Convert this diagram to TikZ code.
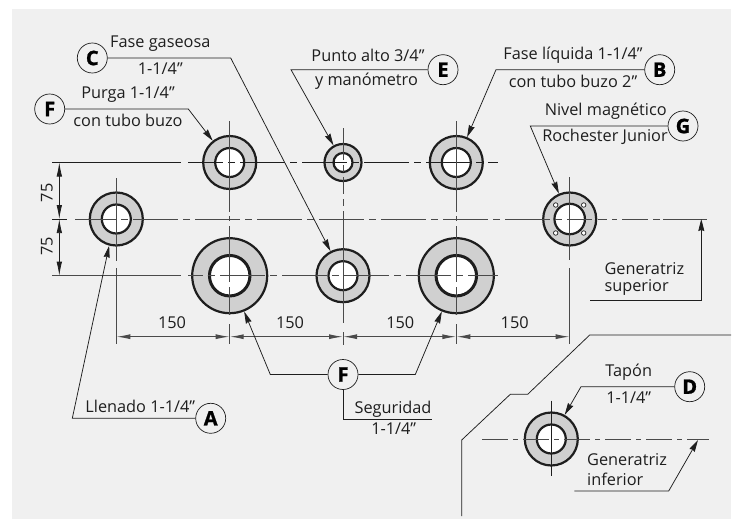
\documentclass[tikz,border=0pt]{standalone}
\usepackage{fontspec}
\setmainfont{Open Sans}
\newfontface\heavyface[FakeBold=1.2]{Open Sans Bold}
\usetikzlibrary{arrows.meta}
\definecolor{bgpanel}{HTML}{F0F0F0}
\definecolor{ringgray}{HTML}{D0D0D0}
\definecolor{inkk}{HTML}{1E1E1E}
\definecolor{cline}{HTML}{4A4A4A}
\tikzset{
  ring/.style={circle,draw=inkk,fill=ringgray,line width=2.2pt,inner sep=0pt,outer sep=1.1pt},
  hole/.style={circle,draw=inkk,fill=white,line width=2.2pt,inner sep=0pt},
  ringM/.style={ring,minimum size=53pt},
  holeM/.style={hole,minimum size=29pt},
  ringL/.style={ring,minimum size=75pt},
  holeL/.style={hole,minimum size=40.5pt,line width=3pt},
  ringS/.style={ring,minimum size=37pt},
  holeS/.style={hole,minimum size=19pt},
  bolt/.style={circle,draw=inkk,fill=white,line width=.7pt,inner sep=0pt,minimum size=4.5pt},
  tag/.style={circle,draw=inkk,fill=bgpanel,line width=.7pt,inner sep=0pt,minimum size=30pt,font=\fontsize{20}{20}\heavyface},
  lab/.style={font=\fontsize{16.3}{16.3}\selectfont,text=inkk,inner sep=0pt},
  leader/.style={draw=inkk,line width=.75pt},
  pointer/.style={leader,-{Stealth[length=12pt,width=6pt,inset=1pt]}},
  dimh/.style={draw=cline,line width=1.1pt,{Latex[length=14pt,width=5pt]}-{Latex[length=14pt,width=5pt]}},
  dimv/.style={draw=inkk,line width=.75pt,{Latex[length=14pt,width=5.5pt]}-{Latex[length=14pt,width=5.5pt]}},
  ext/.style={draw=inkk,line width=.8pt},
  extg/.style={draw=cline,line width=1pt},
  centerx/.style={dash pattern=on 45pt off 5pt on 7pt off 5pt},
  centerd/.style={dash pattern=on 26pt off 5pt on 5pt off 5pt},
  centerv/.style={draw=cline,line width=1pt,dash pattern=on 91pt off 4pt on 5pt off 5pt on 56pt off 5pt on 28pt off 9pt on 20pt},
  centerw/.style={draw=cline,line width=1pt,dash pattern=on 32pt off 5pt on 7pt off 5pt on 17pt off 5pt on 7pt off 5pt on 112pt off 9pt on 20pt},
}
\begin{document}
\begin{tikzpicture}[x=1pt,y=-1pt]
\useasboundingbox (0,0) rectangle (734,519);
\fill[bgpanel] (12,9) rectangle (731,519);

% vessel ports
\node[ringM] (pF) at (229.7,162.5) {}; \node[holeM] (hF) at (pF) {};
\node[ringS] (pE) at (343,162.5) {};   \node[holeS] (hE) at (pE) {};
\node[ringM] (pB) at (456.3,162.5) {}; \node[holeM] (hB) at (pB) {};
\node[ringM] (pA) at (116.3,219) {};   \node[holeM] (hA) at (pA) {};
\node[ringM] (pG) at (569.7,219) {};   \node[hole,minimum size=30.5pt] (hG) at (pG) {};
\node[bolt] (b1) at (555.7,205) {}; \node[bolt] (b2) at (583.7,205) {};
\node[bolt] (b3) at (555.7,233) {}; \node[bolt] (b4) at (583.7,233) {};
\node[ringL] (pS1) at (229.7,275.7) {}; \node[holeL] (hS1) at (pS1) {};
\node[ringM] (pC) at (343,275.7) {};    \node[holeM] (hC) at (pC) {};
\node[ringL] (pS2) at (456.3,275.7) {}; \node[holeL] (hS2) at (pS2) {};
\node[ringM] (pD) at (551.3,439) {};    \node[holeM] (hD) at (pD) {};

% horizontal centre lines
\coordinate (hl1a) at (52,162.5);  \coordinate (hl1b) at (497.7,162.5);
\coordinate (hl2a) at (52,219);    \coordinate (hl2b) at (707.7,219);
\coordinate (hl3a) at (52,275.7);  \coordinate (hl3b) at (497.7,275.7);
\coordinate (hl4a) at (482,439);   \coordinate (hl4b) at (708.7,439);
\draw[ext] (hl1a) -- (181,162.5);
\draw[extg,line width=1.2pt] (hl3a) -- (181,275.7);
\draw[ext] (52,219) -- (67,219);
\draw[ext,centerx,dash phase=10pt] (188,162.5) -- (hl1b);
\draw[extg,line width=1.2pt,centerx,dash phase=30pt] (188,275.7) -- (hl3b);
\draw[extg,centerx,dash phase=4pt] (75,219) -- (592,219);
\draw[extg,dash pattern=on 9pt off 5pt on 5pt off 5pt on 26pt off 5pt on 7pt off 3pt on 44pt] (598,219) -- (hl2b);
\draw[extg,line width=.9pt,centerd] (hl4a) -- (hl4b);
% vertical centre lines
\draw[extg,line width=.9pt] (116.3,178) -- (116.3,260.7);
\draw[extg,line width=.9pt] (116.3,268) -- (116.3,344);
\draw[centerv] (229.7,121) -- (229.7,345);
\draw[centerw] (343,128) -- (343,345);
\draw[centerv] (456.3,121) -- (456.3,345);
\draw[extg,line width=.9pt] (569.7,177) -- (569.7,260);
\draw[extg,line width=.9pt] (569.7,268) -- (569.7,344);
\draw[ext] (551.3,400.7) -- (551.3,475.7);

% dimensions
\coordinate (dv1) at (59.3,162.5); \coordinate (dv2) at (59.3,219); \coordinate (dv3) at (59.3,275.7);
\draw[dimv] (dv1) -- (dv2);
\draw[dimv] (dv2) -- (dv3);
\node[lab,rotate=90] (d75a) at (47,192.7) {75};
\node[lab,rotate=90] (d75b) at (47,246.5) {75};
\coordinate (dh1) at (116.3,336.7); \coordinate (dh2) at (229.7,336.7); \coordinate (dh3) at (343,336.7);
\coordinate (dh4) at (456.3,336.7); \coordinate (dh5) at (569.7,336.7);
\draw[dimh] (dh1) -- (dh2);
\draw[dimh] (dh2) -- (dh3);
\draw[dimh] (dh3) -- (dh4);
\draw[dimh] (dh4) -- (dh5);
\node[lab] (d150a) at (172,322.7) {150};
\node[lab] (d150b) at (290,322.7) {150};
\node[lab] (d150c) at (400.3,322.7) {150};
\node[lab] (d150d) at (514.7,322.7) {150};

% tags
\node[tag] (tC) at (92.3,58) {C};
\node[tag] (tF) at (49.7,109) {F};
\node[tag] (tE) at (443,69.7) {E};
\node[tag] (tB) at (659.7,69.7) {B};
\node[tag] (tG) at (683,126) {G};
\node[tag] (tF2) at (343,374.5) {F};
\node[tag] (tA) at (210.7,418.3) {A};
\node[tag] (tD) at (689.7,386.7) {D};

% leaders
\coordinate (bC) at (230.7,58);
\coordinate (bF) at (188.3,109);
\coordinate (bE) at (291,69.7);
\coordinate (bB) at (496,69.7);
\coordinate (bG) at (530.3,126);
\coordinate (bA) at (72.3,418.3);
\coordinate (bD) at (581,386.7);
\coordinate (bF2a) at (270.3,374.5);
\coordinate (bF2b) at (415.3,374.5);
\coordinate (bF2c) at (343,419.3);
\coordinate (eF2c) at (432,419.3);
\draw[pointer] (tC) -- (bC) -- (pC.117);
\draw[pointer] (tF) -- (bF) -- (pF.128);
\draw[pointer] (tE) -- (bE) -- (pE.119);
\draw[pointer] (tB) -- (bB) -- (pB.67);
\draw[pointer] (tG) -- (bG) -- (pG.113);
\draw[pointer] (tA) -- (bA) -- (pA.255);
\draw[pointer] (tD) -- (bD) -- (pD.61);
\draw[pointer] (tF2) -- (bF2a) -- (pS1.292);
\draw[pointer] (tF2) -- (bF2b) -- (pS2.248);
\draw[leader] (tF2) -- (bF2c) -- (eF2c);

% generatrix leaders
\coordinate (gs0) at (590.3,300.7); \coordinate (gs1) at (701.3,300.7); \coordinate (gs2) at (701.3,219);
\draw[pointer] (gs0) -- (gs1) -- (gs2);
\coordinate (gi0) at (574.3,491); \coordinate (gi1) at (668.7,491); \coordinate (gi2) at (698,440);
\draw[pointer] (gi0) -- (gi1) -- (gi2);

% break line
\draw[leader] (731,335) -- (589.7,335) -- (527.7,394.3) -- (510.3,394.3) -- (461.7,440) -- (461.7,516);

% labels
\node[lab] (l1) at (160.3,44) {Fase gaseosa};
\node[lab] (l2) at (160.3,69) {1-1/4"};
\node[lab] (l3) at (128,95) {Purga 1-1/4"};
\node[lab] (l4) at (128,120.7) {con tubo buzo};
\node[lab] (l5) at (368,55) {Punto alto 3/4"};
\node[lab] (l6) at (366.5,81) {y manómetro};
\node[lab] (l7) at (573,55) {Fase líquida 1-1/4"};
\node[lab] (l8) at (573,81) {con tubo buzo 2"};
\node[lab] (l9) at (605.7,111.7) {Nivel magnético};
\node[lab] (l10) at (605,137) {Rochester Junior};
\node[lab,anchor=west] (l11) at (604.3,269) {Generatriz};
\node[lab,anchor=west] (l12) at (604.3,287.7) {superior};
\node[lab] (l13) at (393,409) {Seguridad};
\node[lab] (l14) at (393.7,429) {1-1/4"};
\node[lab] (l15) at (140.3,406) {Llenado 1-1/4"};
\node[lab] (l16) at (628.7,372.7) {Tapón};
\node[lab] (l17) at (628.7,397.3) {1-1/4"};
\node[lab,anchor=west] (l18) at (587,460) {Generatriz};
\node[lab,anchor=west] (l19) at (587,479.3) {inferior};
\end{tikzpicture}
\end{document}
